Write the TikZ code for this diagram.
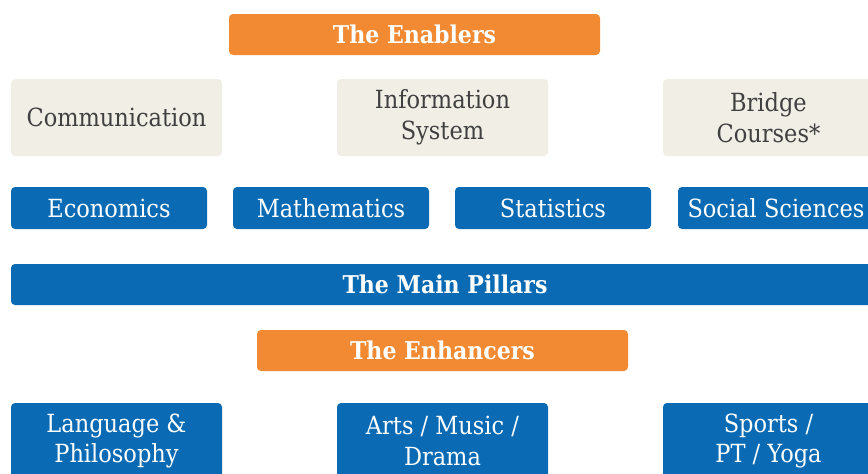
\documentclass[tikz,border=0pt]{standalone}
\usepackage{fontspec}
\setmainfont[FakeStretch=0.9]{DejaVu Serif}
\definecolor{cblue}{HTML}{0A6AB4}
\definecolor{corange}{HTML}{F28A33}
\definecolor{cbeige}{HTML}{F1EEE6}
\definecolor{ctext}{HTML}{404040}
\begin{document}
\begin{tikzpicture}[x=1pt,y=-1pt,
  box/.style={rounded corners=4pt, inner sep=0pt, align=center, font=\fontsize{25}{30.5}\selectfont},
  bluebox/.style={box, fill=cblue, text=white},
  titlefont/.style={font=\fontsize{24.5}{30}\selectfont\bfseries},
  orangebox/.style={box, fill=corange, text=white, titlefont},
  beigebox/.style={box, fill=cbeige, text=ctext}]
\useasboundingbox (0,0) rectangle (868,474);
% Enablers
\node[orangebox, minimum width=371pt, minimum height=41pt] (enab) at (414.5,34.5) {The Enablers};
\node[beigebox, minimum width=211pt, minimum height=77pt] (comm) at (116.5,117.5) {Communication};
\node[beigebox, minimum width=211pt, minimum height=77pt] (info) at (442.5,117.5) {Information\\System};
\node[beigebox, minimum width=211pt, minimum height=77pt] (bridge) at (768.5,117.5) {Bridge\\Courses*};
% Pillars
\node[bluebox, minimum width=196pt, minimum height=42pt] (eco) at (109,208) {Economics};
\node[bluebox, minimum width=196pt, minimum height=42pt] (math) at (331,208) {Mathematics};
\node[bluebox, minimum width=196pt, minimum height=42pt] (stat) at (553,208) {Statistics};
\node[bluebox, minimum width=196pt, minimum height=42pt] (soc) at (776,208) {Social Sciences};
\node[bluebox, titlefont, minimum width=868pt, minimum height=41pt] (main) at (445,284.5) {The Main Pillars};
% Enhancers
\node[orangebox, minimum width=371pt, minimum height=41pt] (enh) at (442.5,350.5) {The Enhancers};
\node[bluebox, minimum width=211pt, minimum height=76pt] (lang) at (116.5,441) {Language \&\\Philosophy};
\node[bluebox, minimum width=211pt, minimum height=76pt] (arts) at (442.5,441) {Arts / Music /\\Drama};
\node[bluebox, minimum width=211pt, minimum height=76pt] (sport) at (768.5,441) {Sports /\\PT / Yoga};
\end{tikzpicture}
\end{document}
